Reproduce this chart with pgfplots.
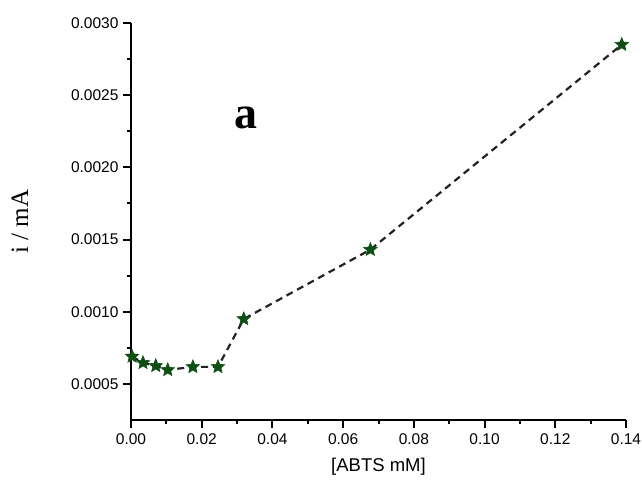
\documentclass[border=0pt]{standalone}
\usepackage{fontspec}
\setmainfont{Liberation Sans}
\newfontfamily\seriffont{Liberation Serif}
\usepackage{pgfplots}
\pgfplotsset{compat=1.18}
\definecolor{stargreen}{HTML}{0D4F12}
\definecolor{lineg}{HTML}{222222}
\pgfdeclareplotmark{fstar}{%
  \pgfpathmoveto{\pgfpointpolar{90}{\pgfplotmarksize}}%
  \pgfpathlineto{\pgfpointpolar{126}{0.45\pgfplotmarksize}}%
  \pgfpathlineto{\pgfpointpolar{162}{\pgfplotmarksize}}%
  \pgfpathlineto{\pgfpointpolar{198}{0.45\pgfplotmarksize}}%
  \pgfpathlineto{\pgfpointpolar{234}{\pgfplotmarksize}}%
  \pgfpathlineto{\pgfpointpolar{270}{0.45\pgfplotmarksize}}%
  \pgfpathlineto{\pgfpointpolar{306}{\pgfplotmarksize}}%
  \pgfpathlineto{\pgfpointpolar{342}{0.45\pgfplotmarksize}}%
  \pgfpathlineto{\pgfpointpolar{18}{\pgfplotmarksize}}%
  \pgfpathlineto{\pgfpointpolar{54}{0.45\pgfplotmarksize}}%
  \pgfpathclose
  \pgfusepathqfillstroke}
\begin{document}
\begin{tikzpicture}
\useasboundingbox (0,0) rectangle (642pt,481pt);
\begin{axis}[
  at={(131pt,61pt)}, anchor=origin,
  scale only axis, width=495pt, height=397pt,
  xmin=0, xmax=0.14, ymin=0.00025, ymax=0.003,
  axis x line*=bottom, axis y line*=left,
  axis line style={line width=2.2pt, black},
  xtick={0,0.02,0.04,0.06,0.08,0.10,0.12,0.14},
  ytick={0.0005,0.001,0.0015,0.002,0.0025,0.003},
  minor tick num=1,
  tick align=outside,
  major tick length=8pt, minor tick length=4pt,
  every tick/.style={black, line width=2pt},
  scaled x ticks=false, scaled y ticks=false,
  /pgf/number format/assume math mode=true,
  xticklabel style={/pgf/number format/fixed, /pgf/number format/fixed zerofill, /pgf/number format/precision=2, yshift=-2pt},
  yticklabel style={/pgf/number format/fixed, /pgf/number format/fixed zerofill, /pgf/number format/precision=4, xshift=-1pt},
  tick label style={font=\fontsize{15.5}{17}\selectfont},
  xlabel={[ABTS mM]},
  every axis x label/.style={at={(rel axis cs:0.5,0)}, yshift=-47pt, anchor=center, font=\fontsize{18.5}{20}\selectfont},
  ylabel={i / mA},
  every axis y label/.style={at={(rel axis cs:0,0.5)}, xshift=-111pt, anchor=center, rotate=90, font=\seriffont\fontsize{25}{28}\selectfont},
  clip=false,
]
\addplot[lineg, line width=2.2pt, dash pattern=on 7pt off 5pt,
  mark=fstar, mark size=7pt,
  mark options={solid, fill=stargreen, draw=stargreen, line width=0.6pt}]
  coordinates {
  (0.0003,0.00069)
  (0.0034,0.000646)
  (0.0070,0.000625)
  (0.0104,0.000597)
  (0.0175,0.000618)
  (0.0246,0.000618)
  (0.0319,0.00095)
  (0.0677,0.00143)
  (0.1388,0.00285)
  };
\node[font=\seriffont\bfseries\fontsize{46}{50}\selectfont] at (axis cs:0.0325,0.00234) {a};
\end{axis}
\end{tikzpicture}
\end{document}
